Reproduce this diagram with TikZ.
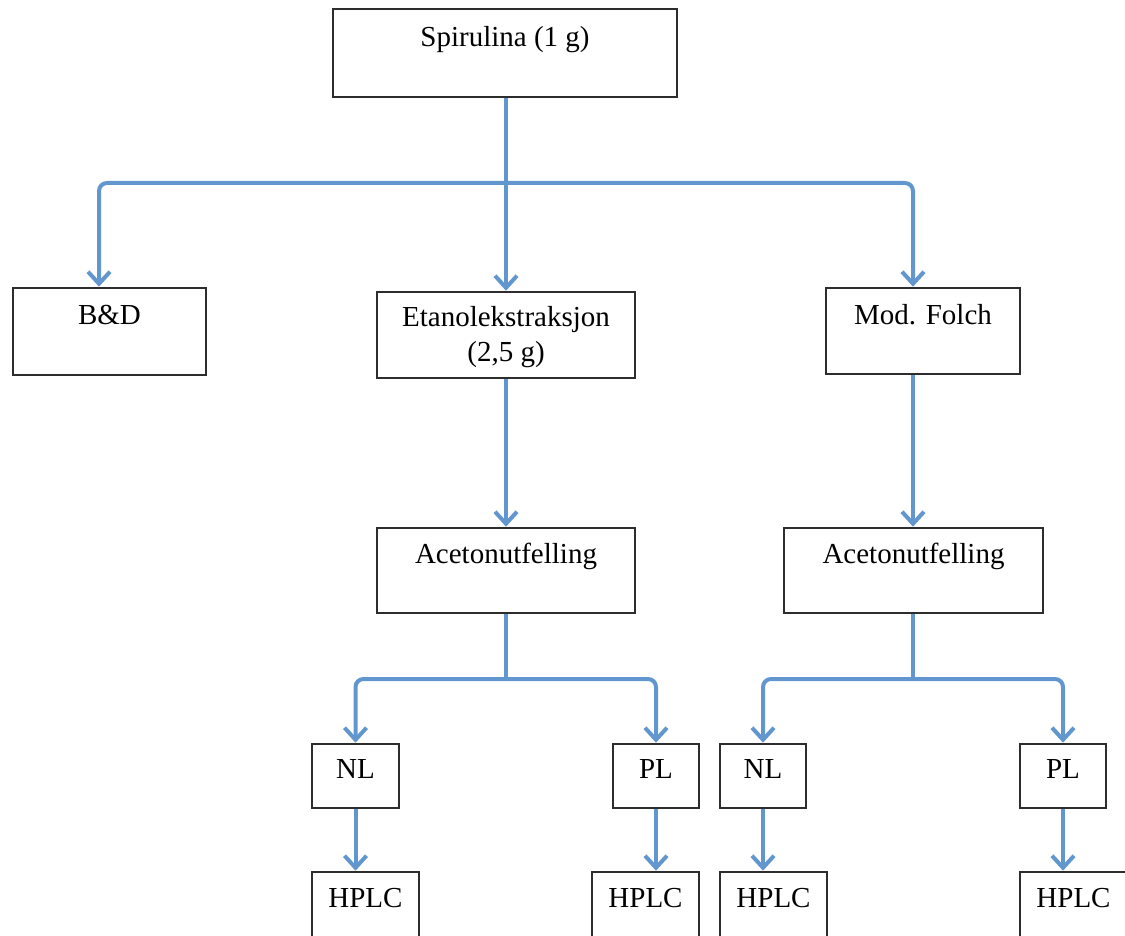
\documentclass[tikz,border=0pt]{standalone}
\usepackage{fontspec}
\setmainfont{Liberation Serif}
\usetikzlibrary{arrows.meta}
\definecolor{flow}{RGB}{98,150,207}
\definecolor{edge}{RGB}{45,45,45}
\tikzset{
  box/.style={draw=edge, line width=1.3pt, fill=white, inner sep=0pt},
  lbl/.style={anchor=base, font=\fontsize{14.5}{17.5}\selectfont, text=black, align=center, inner sep=0pt},
  conn/.style={draw=flow, line width=2pt, rounded corners=4pt},
  arr/.style={conn, -{Straight Barb[length=6pt,width=11pt]}}
}
\begin{document}
\begin{tikzpicture}[x=0.5pt,y=-0.5pt]
\useasboundingbox (0,0) rectangle (1125,936);
% boxes (centre, width, height in px)
\node[box, minimum width=172pt, minimum height=44pt] (spir) at (505,53) {};
\node[box, minimum width=96.5pt, minimum height=43.5pt] (bd) at (109.5,331.5) {};
\node[box, minimum width=129pt, minimum height=43pt] (eta) at (506,335) {};
\node[box, minimum width=97pt, minimum height=43pt] (fol) at (923,331) {};
\node[box, minimum width=129pt, minimum height=42.5pt] (acL) at (506,570.5) {};
\node[box, minimum width=129.5pt, minimum height=42.5pt] (acR) at (913.5,570.5) {};
\node[box, minimum width=43.5pt, minimum height=32pt] (nl1) at (355.5,776) {};
\node[box, minimum width=43pt, minimum height=32pt] (pl1) at (656,776) {};
\node[box, minimum width=43pt, minimum height=32pt] (nl2) at (763,776) {};
\node[box, minimum width=43pt, minimum height=32pt] (pl2) at (1063,776) {};
\node[box, minimum width=53.5pt, minimum height=44pt] (h1) at (365.5,916) {};
\node[box, minimum width=53.5pt, minimum height=44pt] (h2) at (645.5,916) {};
\node[box, minimum width=53.5pt, minimum height=44pt] (h3) at (773.5,916) {};
\node[box, minimum width=53.5pt, minimum height=44pt] (h4) at (1073.5,916) {};
% labels
\node[lbl] (tspir) at ([yshift=-19.5pt]spir.north) {Spirulina (1 g)};
\node[lbl] (tbd) at ([yshift=-19pt]bd.north) {B\&D};
\node[lbl] (teta) at ([yshift=-18pt]eta.north) {Etanolekstraksjon};
\node[lbl] (teta2) at ([yshift=-35.5pt]eta.north) {(2,5 g)};
\node[lbl] (tfol) at ([yshift=-19pt]fol.north) {Mod. Folch};
\node[lbl] (tacL) at ([yshift=-18.5pt]acL.north) {Acetonutfelling};
\node[lbl] (tacR) at ([yshift=-18.5pt]acR.north) {Acetonutfelling};
\node[lbl] (tnl1) at ([yshift=-18pt]nl1.north) {NL};
\node[lbl] (tpl1) at ([yshift=-18pt]pl1.north) {PL};
\node[lbl] (tnl2) at ([yshift=-18pt]nl2.north) {NL};
\node[lbl] (tpl2) at ([yshift=-18pt]pl2.north) {PL};
\node[lbl] (th1) at ([yshift=-18.5pt]h1.north) {HPLC};
\node[lbl] (th2) at ([yshift=-18.5pt]h2.north) {HPLC};
\node[lbl] (th3) at ([yshift=-18.5pt]h3.north) {HPLC};
\node[lbl] (th4) at ([yshift=-18.5pt]h4.north) {HPLC};
% junctions
\coordinate (j1) at (506,183);
\coordinate (j2) at (506,679);
\coordinate (j3) at (913,679);
% connectors
\draw[conn] ([xshift=0.5pt]spir.south) -- (j1);
\draw[arr] (j1) -| ([xshift=-5.25pt]bd.north);
\draw[arr] (j1) -- (eta.north);
\draw[arr] (j1) -| (fol.north -| j3);
\draw[arr] (eta.south) -- (acL.north);
\draw[arr] (fol.south -| j3) -- (acR.north -| j3);
\draw[conn] (acL.south) -- (j2);
\draw[arr] (j2) -| (nl1.north);
\draw[arr] (j2) -| (pl1.north);
\draw[conn] (acR.south -| j3) -- (j3);
\draw[arr] (j3) -| (nl2.north);
\draw[arr] (j3) -| (pl2.north);
\draw[arr] (nl1.south) -- (nl1.south |- h1.north);
\draw[arr] (pl1.south) -- (pl1.south |- h2.north);
\draw[arr] (nl2.south) -- (nl2.south |- h3.north);
\draw[arr] (pl2.south) -- (pl2.south |- h4.north);
\end{tikzpicture}
\end{document}
